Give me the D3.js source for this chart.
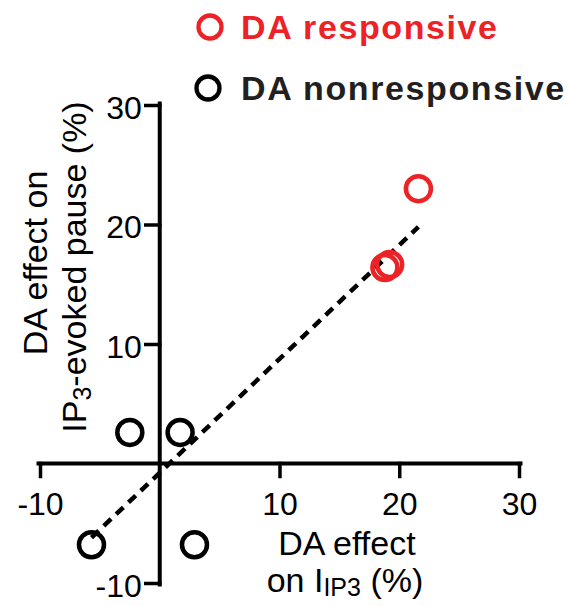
<!DOCTYPE html>
<html>
<head>
<meta charset="utf-8">
<script src="https://cdn.jsdelivr.net/npm/d3@7"></script>
<style>
  body { margin: 0; background: #fff; }
  svg { display: block; font-family: "Liberation Sans", Arial, Helvetica, sans-serif; }
</style>
</head>
<body>
<div id="chart"></div>
<script>
const width = 571;
const height = 606;

// data
const respX = [21.6, 18.8, 19.2];
const respY = [23.0, 16.4, 16.65];
const nonX = [-2.5, 1.7, -5.7, 2.9];
const nonY = [2.6, 2.6, -6.8, -6.8];
const fitX = [-5.7, 21.6];
const fitY = [-6.2, 19.8];
const xTicks = [-10, 10, 20, 30];
const yTicks = [-10, 10, 20, 30];
const legendLabels = ['DA responsive', 'DA nonresponsive'];
const legendColors = ['#ed2227', '#000'];
const textColors = ['#ed2227', '#231f20'];

const red = '#ed2227';

const x = d3.scaleLinear().domain([-10, 30]).range([40, 519]);
const y = d3.scaleLinear().domain([-10, 30]).range([583, 105]);

const svg = d3.select('#chart').append('svg')
    .attr('width', width)
    .attr('height', height);

// x axis
const xAxis = svg.append('g')
    .attr('transform', `translate(0, ${y(0)})`)
    .call(d3.axisBottom(x).tickValues(xTicks).tickSize(13).tickSizeOuter(0).tickFormat(d => String(d)));

xAxis.select('.domain').attr('stroke', '#000').attr('stroke-width', 4).attr('d', `M${x(-10) - 1.5},0H${x(30) + 1.5}`);
xAxis.selectAll('.tick line').attr('stroke', '#000').attr('stroke-width', 3.5);
xAxis.selectAll('.tick text')
    .attr('y', 51).attr('dy', 0)
    .attr('fill', '#000')
    .style('font-size', '32px');

// y axis
const yAxis = svg.append('g')
    .attr('transform', `translate(${x(0)}, 0)`)
    .call(d3.axisLeft(y).tickValues(yTicks).tickSize(14).tickSizeOuter(0).tickFormat(d => String(d)));

yAxis.select('.domain').attr('stroke', '#000').attr('stroke-width', 4).attr('d', `M0,${y(30) - 1.5}V${y(-10) + 1.5}`);
yAxis.selectAll('.tick line').attr('stroke', '#000').attr('stroke-width', 3.5);
yAxis.selectAll('.tick text')
    .attr('x', -18).attr('dy', 13)
    .attr('fill', '#000')
    .style('font-size', '32px');

svg.selectAll('.domain, .tick line').attr('stroke-linecap', 'square');

// dashed fit line
svg.append('line')
    .attr('x1', x(fitX[0])).attr('y1', y(fitY[0]))
    .attr('x2', x(fitX[1])).attr('y2', y(fitY[1]))
    .attr('stroke', '#000')
    .attr('stroke-width', 4.5)
    .attr('stroke-dasharray', '10,7');

// points
svg.append('g').selectAll('circle')
    .data(nonX.map((d, i) => [d, nonY[i]]))
    .join('circle')
    .attr('cx', d => x(d[0]))
    .attr('cy', d => y(d[1]))
    .attr('r', 12.5)
    .attr('fill', 'none')
    .attr('stroke', '#000')
    .attr('stroke-width', 4.5);

svg.append('g').selectAll('circle')
    .data(respX.map((d, i) => [d, respY[i]]))
    .join('circle')
    .attr('cx', d => x(d[0]))
    .attr('cy', d => y(d[1]))
    .attr('r', 12.5)
    .attr('fill', 'none')
    .attr('stroke', red)
    .attr('stroke-width', 4.5);

// axis titles
const xTitle = svg.append('text')
    .attr('text-anchor', 'middle')
    .style('font-size', '34px')
    .attr('fill', '#000');
xTitle.append('tspan').attr('x', 347).attr('y', 555).text('DA effect');
const xl2 = xTitle.append('tspan').attr('x', 345).attr('y', 592);
xl2.append('tspan').text('on I');
xl2.append('tspan').attr('dy', 4).style('font-size', '25px').text('IP3');
xl2.append('tspan').attr('dy', -4).text(' (%)');

const yTitle = svg.append('text')
    .attr('transform', 'rotate(-90)')
    .attr('text-anchor', 'middle')
    .style('font-size', '34px')
    .attr('fill', '#000');
yTitle.append('tspan').attr('x', -263).attr('y', 47).text('DA effect on');
const yl2 = yTitle.append('tspan').attr('x', -267).attr('y', 86);
yl2.append('tspan').text('IP');
yl2.append('tspan').attr('dy', 5).style('font-size', '25px').text('3');
yl2.append('tspan').attr('dy', -5).text('-evoked pause (%)');

// legend
const legend = svg.append('g');
legendLabels.forEach((label, i) => {
    const row = legend.append('g')
        .attr('transform', `translate(0, ${i * 61})`);
    row.append('circle')
        .attr('cx', 210 - i * 2)
        .attr('cy', 27)
        .attr('r', 11.5)
        .attr('fill', 'none')
        .attr('stroke', legendColors[i])
        .attr('stroke-width', 4.3);
    row.append('text')
        .attr('x', 241)
        .attr('y', 39)
        .attr('fill', textColors[i])
        .style('font-size', '34px')
        .style('font-weight', 'bold')
        .style('letter-spacing', '1.6px')
        .text(label);
});
</script>
</body>
</html>
